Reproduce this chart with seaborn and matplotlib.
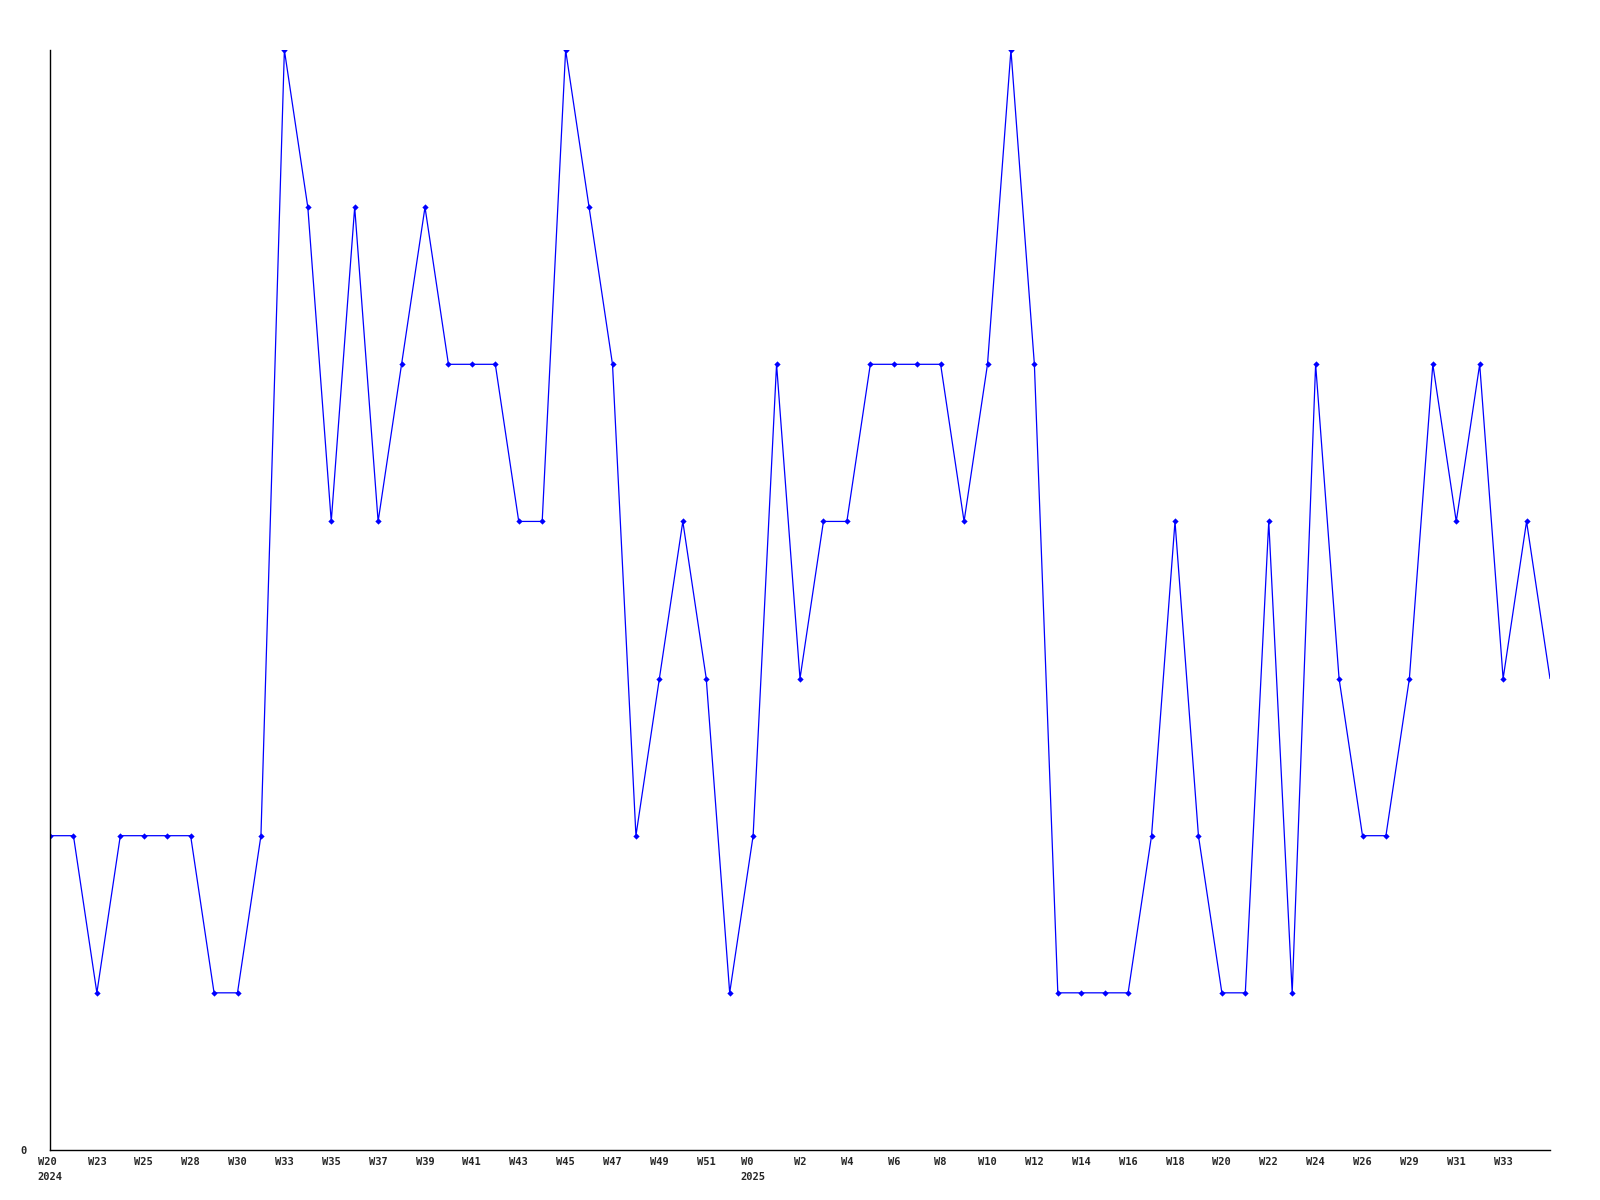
import matplotlib
matplotlib.use('Agg')
import matplotlib.pyplot as plt
import seaborn as sns

# weekly counts, W20 2024 .. W34 2025
values = [2, 2, 1, 2, 2, 2, 2, 1, 1, 2,
          7, 6, 4, 6, 4, 5, 6, 5, 5, 5,
          4, 4, 7, 6, 5, 2, 3, 4, 3, 1,
          2, 5, 3, 4, 4, 5, 5, 5, 5, 4,
          5, 7, 5, 1, 1, 1, 1, 2, 4, 2,
          1, 1, 4, 1, 5, 3, 2, 2, 3, 5,
          4, 5, 3, 4, 3]

tick_labels = ['W20\n2024', 'W23', 'W25', 'W28', 'W30', 'W33', 'W35', 'W37',
               'W39', 'W41', 'W43', 'W45', 'W47', 'W49', 'W51', 'W0\n2025',
               'W2', 'W4', 'W6', 'W8', 'W10', 'W12', 'W14', 'W16', 'W18',
               'W20', 'W22', 'W24', 'W26', 'W29', 'W31', 'W33']
tick_step = 2

sns.set_style('white')
plt.rcParams['font.family'] = ['DejaVu Sans Mono']

x = list(range(len(values)))

fig = plt.figure(figsize=(16, 12), dpi=100)
ax = fig.add_axes([0.03125, 0.0417, 0.9375, 0.9166])

sns.lineplot(x=x, y=values, ax=ax, color='#0000ff', linewidth=0.9,
             marker='D', markersize=3.2, markeredgewidth=0,
             markevery=list(range(len(values) - 1)))

ax.set_xlim(0, len(values) - 1)
ax.set_ylim(0, max(values))
ax.set_xticks([i * tick_step for i in range(len(tick_labels))])
ax.set_xticklabels(tick_labels, fontsize=7.5, fontweight='bold', linespacing=1.6,
                   ha='center', va='top', multialignment='left')

ax.set_yticks([0])
ax.set_yticklabels(['0'], fontsize=7.5, fontweight='bold')
ax.tick_params(axis='x', length=0, pad=5)
ax.tick_params(axis='y', length=0, pad=17)
ax.set_xlabel('')
ax.set_ylabel('')

sns.despine(ax=ax)
for s in ['left', 'bottom']:
    ax.spines[s].set_color('black')
    ax.spines[s].set_linewidth(1)

fig.savefig('out.png', dpi=100)
